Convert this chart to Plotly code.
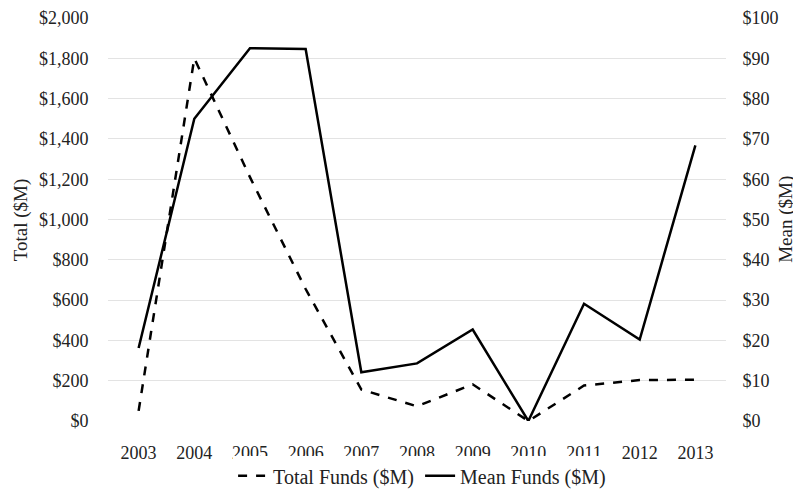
import plotly.graph_objects as go

# data
years = [2003, 2004, 2005, 2006, 2007, 2008, 2009, 2010, 2011, 2012, 2013]
total_funds = [50, 1800, 1210, 655, 156, 73, 182, 0, 176, 203, 205]
mean_funds = [18.1, 75, 92.5, 92.3, 12.1, 14.3, 22.7, 0, 29.1, 20.2, 68.4]

left_ticks = list(range(0, 2001, 200))
right_ticks = list(range(0, 101, 10))

tick_font = dict(family='Liberation Serif', size=18, color='#222')
label_font = dict(family='Liberation Serif', size=20, color='#222')
hidden_tick = dict(ticks='outside', tickcolor='rgba(0,0,0,0)', tickfont=tick_font,
                   ticklabeloverflow='allow')

fig = go.Figure()
fig.add_trace(go.Scatter(
    x=years, y=total_funds, name='Total Funds ($M)', mode='lines',
    line=dict(color='black', width=2.5, dash='dash')))
fig.add_trace(go.Scatter(
    x=years, y=mean_funds, name='Mean Funds ($M)', mode='lines',
    yaxis='y2', line=dict(color='black', width=2.5)))

# page body has an 8px margin, so the figure is 8px smaller each way
fig.update_layout(
    width=793, height=485,
    margin=dict(l=100, r=75, t=10, b=72, autoexpand=False),
    plot_bgcolor='white', paper_bgcolor='white',
    font=tick_font,
    xaxis=dict(range=[2002.45, 2013.55], tickvals=years, ticktext=[str(y) for y in years],
               showgrid=False, zeroline=False, showline=False, ticklen=15, **hidden_tick),
    yaxis=dict(range=[0, 2000], tickvals=left_ticks,
               ticktext=['${:,}'.format(v) for v in left_ticks],
               gridcolor='#e3e3e3', gridwidth=1, zeroline=False, ticklen=15, **hidden_tick),
    yaxis2=dict(range=[0, 100], tickvals=right_ticks,
                ticktext=['${}'.format(v) for v in right_ticks],
                overlaying='y', side='right', showgrid=False, zeroline=False,
                ticklen=12, **hidden_tick),
    legend=dict(orientation='h', x=0.505, xanchor='center', y=-0.136, yanchor='middle',
                font=label_font, entrywidth=142),
)

# axis titles
fig.add_annotation(text='Total ($M)', xref='paper', yref='paper', x=-0.141, y=0.5,
                   xanchor='center', yanchor='middle',
                   textangle=-90, showarrow=False, font=dict(label_font, size=19))
fig.add_annotation(text='Mean ($M)', xref='paper', yref='paper', x=1.096, y=0.5,
                   xanchor='center', yanchor='middle',
                   textangle=-90, showarrow=False, font=dict(label_font, size=19))

fig.write_html("out.html")
